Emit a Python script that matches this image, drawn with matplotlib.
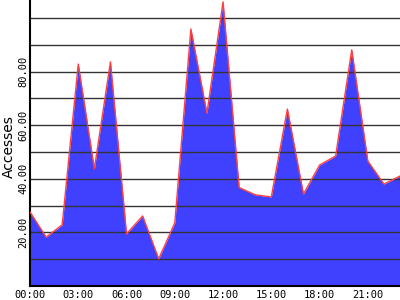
import matplotlib
matplotlib.use("Agg")
import matplotlib.pyplot as plt

# hourly accesses
hours = list(range(24))
accesses = [27.6, 18.2, 22.8, 82.8, 43.7, 83.6, 19.4, 26.1, 10.1, 23.5,
            95.9, 64.5, 106.0, 36.7, 34.0, 33.2, 66.0, 34.3, 45.1, 48.5,
            88.1, 46.6, 38.0, 41.0]
xtick_pos = [0, 3, 6, 9, 12, 15, 18, 21]
xtick_labels = ["00:00", "03:00", "06:00", "09:00", "12:00", "15:00", "18:00", "21:00"]
ytick_pos = [20, 40, 60, 80]
grid_levels = [10, 20, 30, 40, 50, 60, 70, 80, 90, 100]

fig = plt.figure(figsize=(4, 3), dpi=100)
ax = fig.add_axes([0.075, 0.047, 0.925, 0.953])

ax.fill_between(hours, accesses, 0, color="#4040ff", linewidth=0, zorder=1)
for g in grid_levels:
    ax.axhline(g, color="#333333", linewidth=1, zorder=2)
ax.plot(hours, accesses, color="#ff4040", linewidth=1, zorder=3)

ax.set_xlim(0, 23)
ax.set_ylim(0, 106.7)
ax.set_xticks(xtick_pos)
ax.set_xticklabels(xtick_labels, family="DejaVu Sans Mono", fontsize=7.5)
ax.set_yticks(ytick_pos)
ax.set_yticklabels(["%.2f" % v for v in ytick_pos], family="DejaVu Sans Mono",
                   fontsize=7.5, rotation=90, va="center")
ax.tick_params(axis="x", length=0, pad=3)
ax.tick_params(axis="y", length=0, pad=1)

# y label placed by hand so it stays inside the narrow margin
fig.text(0.023, 0.513, "Accesses", rotation=90, fontsize=10,
         ha="center", va="center")

for side in ["top", "right"]:
    ax.spines[side].set_visible(False)
ax.spines["left"].set_linewidth(1.5)
ax.spines["bottom"].set_linewidth(1.5)

fig.savefig("out.png", dpi=100)
